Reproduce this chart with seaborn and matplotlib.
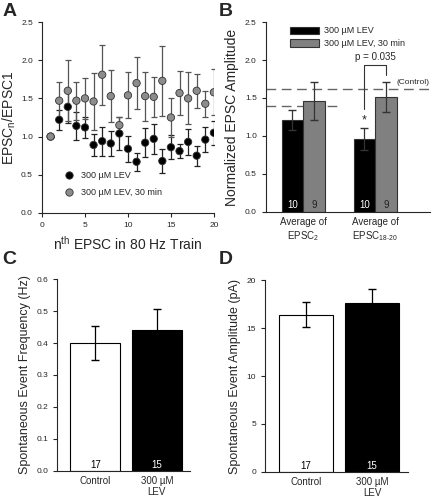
import numpy as np
import pandas as pd
import matplotlib
matplotlib.use("Agg")
import matplotlib.pyplot as plt
import seaborn as sns

# Panel A: normalized EPSC amplitude across an 80 Hz train
pulse_n = list(range(1, 21))
lev_mean = [1.00, 1.22, 1.39, 1.14, 1.12, 0.89, 0.94, 0.91, 1.04, 0.84,
            0.67, 0.92, 0.97, 0.68, 0.86, 0.81, 0.93, 0.75, 0.96, 1.05]
lev_sem = [0.00, 0.13, 0.21, 0.18, 0.14, 0.15, 0.19, 0.16, 0.21, 0.17,
           0.12, 0.19, 0.20, 0.16, 0.16, 0.09, 0.17, 0.13, 0.16, 0.16]
lev30_mean = [1.00, 1.47, 1.60, 1.47, 1.50, 1.46, 1.81, 1.53, 1.15, 1.54,
              1.70, 1.53, 1.52, 1.73, 1.25, 1.57, 1.50, 1.60, 1.43, 1.58]
lev30_sem = [0.00, 0.24, 0.40, 0.25, 0.27, 0.37, 0.39, 0.34, 0.10, 0.30,
             0.34, 0.32, 0.26, 0.46, 0.25, 0.29, 0.34, 0.22, 0.17, 0.30]

# Panel B: averages
b_groups = ["Average of\nEPSC$_2$", "Average of\nEPSC$_{18\u201120}$"]
b_conds = ["300 \u00b5M LEV", "300 \u00b5M LEV, 30 min"]
b_lev = [1.21, 0.96]
b_lev_err = [0.13, 0.14]
b_lev30 = [1.46, 1.51]
b_lev30_err = [0.25, 0.20]
b_n_lev = ["10", "10"]
b_n_lev30 = ["9", "9"]
control_lines = [1.40, 1.62]

# Panels C and D: spontaneous events
cd_conds = ["Control", "300 \u00b5M\nLEV"]
freq_mean = [0.40, 0.44]
freq_err = [0.052, 0.067]
amp_mean = [16.4, 17.6]
amp_err = [1.3, 1.5]
cd_n = ["17", "15"]

sns.set_style("ticks")
plt.rcParams['font.family'] = ['Liberation Sans', 'DejaVu Sans']
plt.rcParams['mathtext.fontset'] = 'custom'
plt.rcParams['mathtext.rm'] = 'Liberation Sans'
plt.rcParams['mathtext.it'] = 'Liberation Sans'
plt.rcParams['xtick.labelsize'] = 6
plt.rcParams['ytick.labelsize'] = 6
plt.rcParams['xtick.major.size'] = 3
plt.rcParams['ytick.major.size'] = 3

fig = plt.figure(figsize=(4.33, 5.01), dpi=100)
axA = fig.add_axes([0.097, 0.575, 0.397, 0.381])
axB = fig.add_axes([0.614, 0.577, 0.379, 0.379])
axC = fig.add_axes([0.132, 0.060, 0.307, 0.383])
axD = fig.add_axes([0.612, 0.058, 0.330, 0.383])

# ---- Panel A
dfA = pd.DataFrame({"n": pulse_n * 2,
                    "ratio": lev_mean + lev30_mean,
                    "cond": [b_conds[0]] * 20 + [b_conds[1]] * 20})
axA.errorbar(pulse_n, lev_mean, yerr=lev_sem, fmt="none", ecolor="#222222",
             elinewidth=0.9, capsize=2.5, capthick=0.9, zorder=2)
axA.errorbar(pulse_n, lev30_mean, yerr=lev30_sem, fmt="none", ecolor="#555555",
             elinewidth=0.9, capsize=2.5, capthick=0.9, zorder=2)
sns.scatterplot(data=dfA, x="n", y="ratio", hue="cond",
                palette=["black", "#8c8c8c"], edgecolor="#333333",
                linewidth=0.6, s=28, ax=axA, zorder=3)
axA.set_xlim(0, 20)
axA.set_ylim(0, 2.5)
axA.set_xticks([0, 5, 10, 15, 20])
axA.set_yticks(np.arange(0, 2.51, 0.5))
axA.set_yticklabels([f"{v:.1f}" for v in np.arange(0, 2.51, 0.5)])
axA.set_xlabel("n$^{th}$ EPSC in 80 Hz Train", fontsize=10)
axA.set_ylabel("EPSC$_{n}$/EPSC1", fontsize=10)
axA.yaxis.set_label_coords(-0.14, 0.5)
axA.legend(loc="lower left", bbox_to_anchor=(0.06, 0.04), frameon=False,
           fontsize=6.5, handletextpad=0.3, labelspacing=0.9, title=None)

# ---- Panel B
dfB = pd.DataFrame({"group": b_groups * 2,
                    "amp": b_lev + b_lev30,
                    "cond": [b_conds[0]] * 2 + [b_conds[1]] * 2})
sns.barplot(data=dfB, x="group", y="amp", hue="cond", width=0.6,
            palette=["black", "#808080"], edgecolor="#333333", linewidth=0.8,
            errorbar=None, ax=axB, zorder=2)
xs = np.arange(len(b_groups))
axB.errorbar(xs - 0.15, b_lev, yerr=b_lev_err, fmt="none", ecolor="#333333",
             elinewidth=0.9, capsize=3, zorder=3)
axB.errorbar(xs + 0.15, b_lev30, yerr=b_lev30_err, fmt="none", ecolor="#333333",
             elinewidth=0.9, capsize=3, zorder=3)
axB.plot([-0.52, 0.51], [control_lines[0]] * 2, ls=(0, (7, 4)), color="#666666",
         lw=1.0, zorder=1)
axB.plot([-0.52, 1.76], [control_lines[1]] * 2, ls=(0, (7, 4)), color="#666666",
         lw=1.0, zorder=1, clip_on=False)
axB.text(1.76, 1.66, "(Control)", fontsize=6, ha="right", va="bottom")
for i in range(len(b_groups)):
    axB.text(i - 0.15, 0.03, b_n_lev[i], color="white", fontsize=7,
             ha="center", va="bottom", zorder=4)
    axB.text(i + 0.15, 0.03, b_n_lev30[i], color="#222222", fontsize=7,
             ha="center", va="bottom", zorder=4)
axB.text(0.85, 1.12, "*", fontsize=9, ha="center", va="bottom")
axB.plot([0.85, 0.85, 1.15, 1.15], [1.36, 1.93, 1.93, 1.80], color="#333333",
         lw=0.8)
axB.text(1.0, 1.98, "p = 0.035", fontsize=7, ha="center", va="bottom")
axB.set_xlim(-0.52, 1.76)
axB.set_ylim(0, 2.5)
axB.set_yticks(np.arange(0, 2.51, 0.5))
axB.set_yticklabels([f"{v:.1f}" for v in np.arange(0, 2.51, 0.5)])
axB.tick_params(axis="x", labelsize=7, length=0)
axB.set_xlabel("")
axB.set_ylabel("Normalized EPSC Amplitude", fontsize=10)
axB.legend(loc="upper left", bbox_to_anchor=(0.1, 1.02), frameon=False,
           fontsize=6.5, handlelength=3.2, handleheight=0.9,
           handletextpad=0.5, labelspacing=0.4, title=None)

# ---- Panels C and D
def spont_panel(ax, means, errs, ylim, yticks, fmt, ylabel):
    df = pd.DataFrame({"cond": cd_conds, "val": means})
    sns.barplot(data=df, x="cond", y="val", hue="cond",
                palette=["white", "black"], edgecolor="black", linewidth=0.8,
                width=0.81, errorbar=None, legend=False, ax=ax, zorder=2)
    ax.errorbar(range(len(cd_conds)), means, yerr=errs, fmt="none",
                ecolor="black", elinewidth=0.9, capsize=3, zorder=3)
    for i, txt in enumerate(cd_n):
        ax.text(i, ylim[1] * 0.005, txt, color="black" if i == 0 else "white",
                fontsize=7, ha="center", va="bottom", zorder=4)
    ax.set_xlim(-0.62, 1.54)
    ax.set_ylim(*ylim)
    ax.set_yticks(yticks)
    ax.set_yticklabels([fmt.format(v) for v in yticks])
    ax.tick_params(axis="x", labelsize=7, length=0)
    ax.set_xlabel("")
    ax.set_ylabel(ylabel, fontsize=9)

spont_panel(axC, freq_mean, freq_err, (0, 0.6), np.arange(0, 0.61, 0.1),
            "{:.1f}", "Spontaneous Event Frequency (Hz)")
spont_panel(axD, amp_mean, amp_err, (0, 20), np.arange(0, 21, 5),
            "{:.0f}", "Spontaneous Event Amplitude (pA)")

for ax in (axA, axB, axC, axD):
    sns.despine(ax=ax)

fig.text(0.005, 0.995, "A", fontsize=14, fontweight="bold", va="top")
fig.text(0.505, 0.995, "B", fontsize=14, fontweight="bold", va="top")
fig.text(0.005, 0.5, "C", fontsize=14, fontweight="bold", va="top")
fig.text(0.505, 0.5, "D", fontsize=14, fontweight="bold", va="top")

fig.savefig("out.png", dpi=100)
